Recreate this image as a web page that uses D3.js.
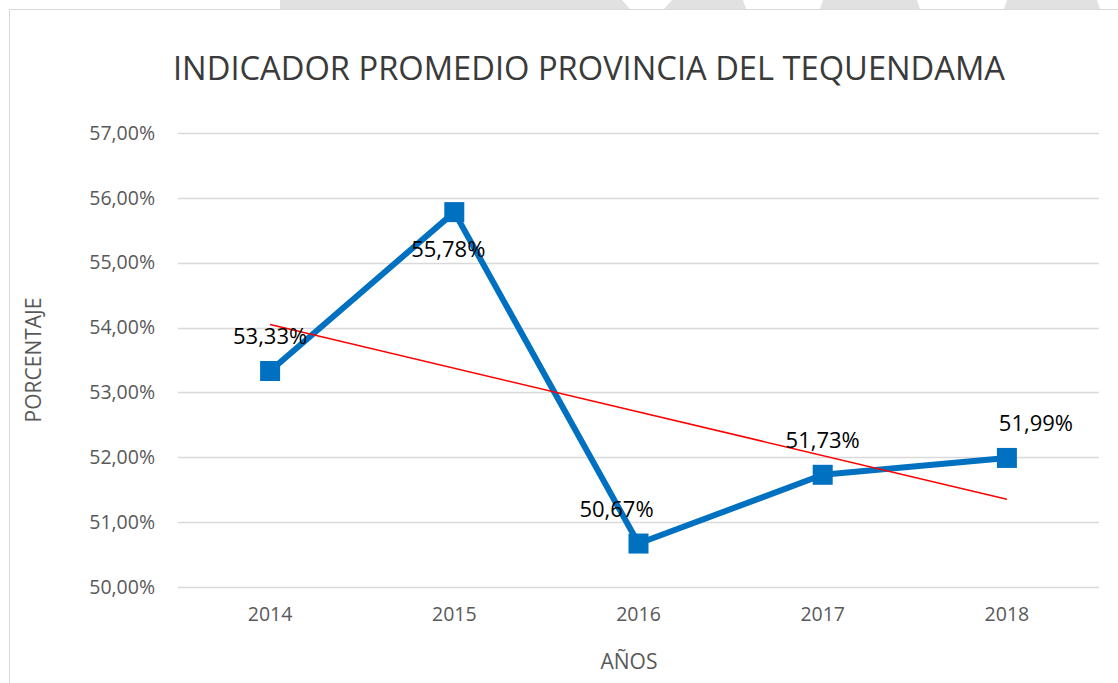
<!DOCTYPE html>
<html>
<head>
  <meta charset="utf-8" />
  <title>Indicador promedio</title>
  <style>
    body { margin: 0; background: #ffffff; }
    svg { display: block; font-family: 'Open Sans', Arial, sans-serif; }
  </style>
  <script src="https://cdnjs.cloudflare.com/ajax/libs/d3/7.8.5/d3.min.js"></script>
</head>
<body>
  <div id="chart"></div>
  <script>
    var years = ["2014", "2015", "2016", "2017", "2018"];
    var values = [53.33, 55.78, 50.67, 51.73, 51.99];
    var yTicks = [50, 51, 52, 53, 54, 55, 56, 57];
    var labelPos = ["above", "below", "above", "above", "above"];

    var w = 1118, h = 683;
    var margin = { top: 133, right: 19, bottom: 96, left: 178 };

    var svg = d3.select("#chart").append("svg")
      .attr("width", w)
      .attr("height", h);

    // decorative grey strip at the very top
    var strip = svg.append("g");
    strip.append("rect").attr("x", 280).attr("y", 0).attr("width", 832).attr("height", 9).attr("fill", "#e1e1e1");
    [[622, 672, 8], [743, 823, 3], [917, 1007, 3], [1097, 1118, 3]].forEach(function (c) {
      strip.append("polygon")
        .attr("points", (c[0] + c[2]) + ",9 " + c[0] + ",0 " + c[1] + ",0 " + (c[1] - c[2]) + ",9")
        .attr("fill", "#ffffff");
    });

    // chart frame
    svg.append("path")
      .attr("d", "M9.5," + h + "V9.5H" + w)
      .attr("fill", "none")
      .attr("stroke", "#d9d9d9")
      .attr("stroke-width", 1);

    var x = d3.scaleBand().domain(years).range([margin.left, w - margin.right]);
    var y = d3.scaleLinear().domain([50, 57]).range([h - margin.bottom, margin.top]);

    var fmt = function (v) { return v.toFixed(2).replace(".", ",") + "%"; };

    // gridlines
    svg.append("g")
      .selectAll("line")
      .data(yTicks)
      .enter().append("line")
      .attr("x1", margin.left).attr("x2", w - margin.right)
      .attr("y1", function (d) { return Math.round(y(d)) + 0.5; })
      .attr("y2", function (d) { return Math.round(y(d)) + 0.5; })
      .attr("stroke", "#d9d9d9")
      .attr("stroke-width", 1.5);

    // y axis labels
    var yAxis = svg.append("g")
      .attr("transform", "translate(" + (margin.left - 23) + ",0)")
      .call(d3.axisLeft(y).tickValues(yTicks).tickSize(0).tickPadding(0).tickFormat(fmt));
    yAxis.select(".domain").remove();
    yAxis.selectAll("text")
      .attr("font-family", "'Open Sans', Arial, sans-serif")
      .attr("font-size", "19.5px")
      .attr("fill", "#595959");

    // x axis labels
    var xAxis = svg.append("g")
      .attr("transform", "translate(0," + (h - margin.bottom + 20) + ")")
      .call(d3.axisBottom(x).tickSize(0).tickPadding(0));
    xAxis.select(".domain").remove();
    xAxis.selectAll("text")
      .attr("font-family", "'Open Sans', Arial, sans-serif")
      .attr("font-size", "19.5px")
      .attr("fill", "#595959");

    var cx = function (d, i) { return x(years[i]) + x.bandwidth() / 2; };

    // main series line
    var line = d3.line()
      .x(function (d, i) { return cx(d, i); })
      .y(function (d) { return y(d); });

    svg.append("path")
      .datum(values)
      .attr("d", line)
      .attr("fill", "none")
      .attr("stroke", "#0070c0")
      .attr("stroke-width", 6)
      .attr("stroke-linejoin", "round");

    // linear trend line (least squares over the series)
    var n = values.length;
    var mx = d3.mean(values, function (d, i) { return i; });
    var my = d3.mean(values);
    var num = d3.sum(values, function (d, i) { return (i - mx) * (d - my); });
    var den = d3.sum(values, function (d, i) { return (i - mx) * (i - mx); });
    var slope = num / den, icpt = my - slope * mx;
    svg.append("line")
      .attr("x1", cx(null, 0)).attr("y1", y(icpt))
      .attr("x2", cx(null, n - 1)).attr("y2", y(icpt + slope * (n - 1)))
      .attr("stroke", "#ff0000")
      .attr("stroke-width", 1.5);

    // markers
    svg.append("g")
      .selectAll("rect")
      .data(values)
      .enter().append("rect")
      .attr("x", function (d, i) { return cx(d, i) - 10; })
      .attr("y", function (d) { return y(d) - 10; })
      .attr("width", 20).attr("height", 20)
      .attr("fill", "#0070c0");

    // data labels
    var dx = [0, -6, -22, 0, 29];
    svg.append("g")
      .selectAll("text")
      .data(values)
      .enter().append("text")
      .attr("x", function (d, i) { return cx(d, i) + dx[i]; })
      .attr("y", function (d, i) { return labelPos[i] === "above" ? y(d) - 27 : y(d) + 45; })
      .attr("text-anchor", "middle")
      .attr("font-size", "22px")
      .attr("fill", "#000000")
      .text(fmt);

    // titles
    svg.append("text")
      .attr("x", 589).attr("y", 80)
      .attr("text-anchor", "middle")
      .attr("font-size", "32px")
      .attr("fill", "#3a3a3a")
      .attr("textLength", 832)
      .attr("lengthAdjust", "spacingAndGlyphs")
      .text("INDICADOR PROMEDIO PROVINCIA DEL TEQUENDAMA");

    svg.append("text")
      .attr("x", 629).attr("y", 669)
      .attr("text-anchor", "middle")
      .attr("font-size", "21px")
      .attr("fill", "#595959")
      .text("AÑOS");

    svg.append("text")
      .attr("transform", "translate(41,360) rotate(-90)")
      .attr("text-anchor", "middle")
      .attr("font-size", "21px")
      .attr("fill", "#595959")
      .text("PORCENTAJE");
  </script>
</body>
</html>
